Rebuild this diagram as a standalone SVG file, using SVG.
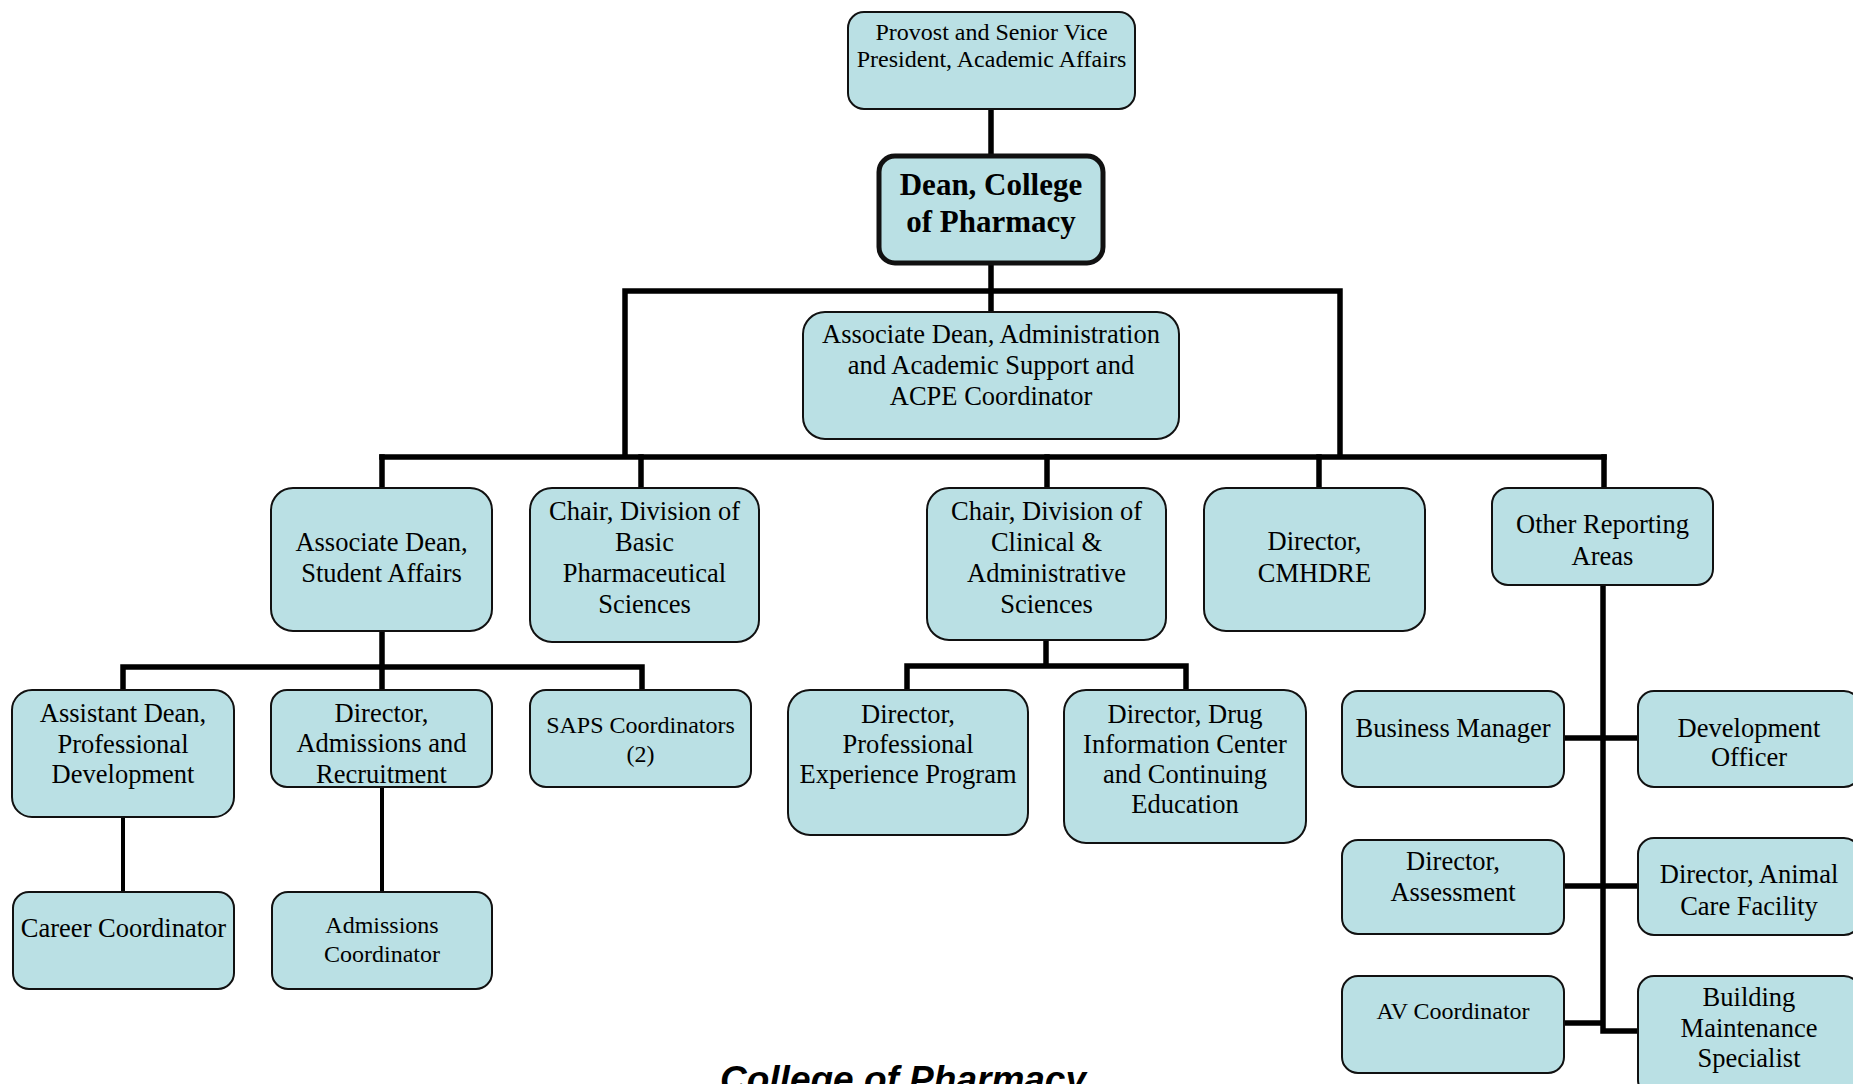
<svg xmlns="http://www.w3.org/2000/svg" width="1853" height="1084" viewBox="0 0 1853 1084">
<style>
.box{fill:#BAE0E4;stroke:#111;stroke-width:2}
.t{font-family:"Liberation Serif","Times New Roman",serif;font-size:26.5px;fill:#000;text-anchor:middle}
.s{font-size:24px}
.b{font-weight:bold;font-size:31px}
.c{fill:none;stroke:#000;stroke-width:5.5;stroke-linecap:square}
.thin{stroke-width:4}
.title{font-family:"Liberation Sans",Arial,sans-serif;font-weight:bold;font-style:italic;font-size:37px;fill:#000}
</style>
<rect width="1853" height="1084" fill="#fff"/>
<g id="connectors">
<path class="c" d="M991 109V156M991 263V312M625 291H1340M625 291V457M1340 291V457M382 457H1604"/>
<path class="c" d="M382 457V488M641 457V488M1047 457V488M1319 457V488M1604 457V488"/>
<path class="c" d="M382 631V690M123 667H642M123 667V690M642 667V690"/>
<path class="c" d="M1046 640V666M907 666H1186M907 666V690M1186 666V690"/>
<path class="c thin" d="M123 817V892M382 787V892"/>
<path class="c" d="M1603 585V1031M1564 738H1638M1564 886H1638M1564 1023H1603M1603 1031H1638"/>
</g>
<g id="provost"><rect class="box" x="848" y="12" width="287" height="97" rx="16"/>
<text class="t s" x="991.5" y="40">Provost and Senior Vice</text><text class="t s" x="991.5" y="67">President, Academic Affairs</text></g>
<g id="dean"><rect class="box" x="879" y="156" width="224" height="107" rx="16" style="stroke-width:5"/>
<text class="t b" x="991" y="195">Dean, College</text><text class="t b" x="991" y="232">of Pharmacy</text></g>
<g id="assoc-admin"><rect class="box" x="803" y="312" width="376" height="127" rx="22"/>
<text class="t" x="991" y="343">Associate Dean, Administration</text><text class="t" x="991" y="374">and Academic Support and</text><text class="t" x="991" y="405">ACPE Coordinator</text></g>
<g id="student-affairs"><rect class="box" x="271" y="488" width="221" height="143" rx="22"/>
<text class="t" x="381.5" y="551">Associate Dean,</text><text class="t" x="381.5" y="582">Student Affairs</text></g>
<g id="basic-sciences"><rect class="box" x="530" y="488" width="229" height="154" rx="22"/>
<text class="t" x="644.5" y="520">Chair, Division of</text><text class="t" x="644.5" y="551">Basic</text><text class="t" x="644.5" y="582">Pharmaceutical</text><text class="t" x="644.5" y="613">Sciences</text></g>
<g id="clinical-sciences"><rect class="box" x="927" y="488" width="239" height="152" rx="22"/>
<text class="t" x="1046.5" y="520">Chair, Division of</text><text class="t" x="1046.5" y="551">Clinical &amp;</text><text class="t" x="1046.5" y="582">Administrative</text><text class="t" x="1046.5" y="613">Sciences</text></g>
<g id="cmhdre"><rect class="box" x="1204" y="488" width="221" height="143" rx="22"/>
<text class="t" x="1314.5" y="550">Director,</text><text class="t" x="1314.5" y="582">CMHDRE</text></g>
<g id="other-reporting"><rect class="box" x="1492" y="488" width="221" height="97" rx="16"/>
<text class="t" x="1602.5" y="533">Other Reporting</text><text class="t" x="1602.5" y="565">Areas</text></g>
<g id="assistant-dean"><rect class="box" x="12" y="690" width="222" height="127" rx="20"/>
<text class="t" x="123" y="722">Assistant Dean,</text><text class="t" x="123" y="753">Professional</text><text class="t" x="123" y="783">Development</text></g>
<g id="director-admissions"><rect class="box" x="271" y="690" width="221" height="97" rx="16"/>
<text class="t" x="381.5" y="722">Director,</text><text class="t" x="381.5" y="752">Admissions and</text><text class="t" x="381.5" y="783">Recruitment</text></g>
<g id="saps"><rect class="box" x="530" y="690" width="221" height="97" rx="16"/>
<text class="t s" x="640.5" y="733">SAPS Coordinators</text><text class="t s" x="640.5" y="762">(2)</text></g>
<g id="prof-experience"><rect class="box" x="788" y="690" width="240" height="145" rx="22"/>
<text class="t" x="908" y="723">Director,</text><text class="t" x="908" y="753">Professional</text><text class="t" x="908" y="783">Experience Program</text></g>
<g id="drug-info"><rect class="box" x="1064" y="690" width="242" height="153" rx="22"/>
<text class="t" x="1185" y="723">Director, Drug</text><text class="t" x="1185" y="753">Information Center</text><text class="t" x="1185" y="783">and Continuing</text><text class="t" x="1185" y="813">Education</text></g>
<g id="career-coordinator"><rect class="box" x="13" y="892" width="221" height="97" rx="16"/>
<text class="t" x="123.5" y="937">Career Coordinator</text></g>
<g id="admissions-coordinator"><rect class="box" x="272" y="892" width="220" height="97" rx="16"/>
<text class="t s" x="382" y="933">Admissions</text><text class="t s" x="382" y="962">Coordinator</text></g>
<g id="business-manager"><rect class="box" x="1342" y="691" width="222" height="96" rx="16"/>
<text class="t" x="1453" y="737">Business Manager</text></g>
<g id="development-officer"><rect class="box" x="1638" y="691" width="222" height="96" rx="16"/>
<text class="t" x="1749" y="737">Development</text><text class="t" x="1749" y="766">Officer</text></g>
<g id="director-assessment"><rect class="box" x="1342" y="840" width="222" height="94" rx="16"/>
<text class="t" x="1453" y="870">Director,</text><text class="t" x="1453" y="901">Assessment</text></g>
<g id="animal-care"><rect class="box" x="1638" y="838" width="222" height="97" rx="16"/>
<text class="t" x="1749" y="883">Director, Animal</text><text class="t" x="1749" y="915">Care Facility</text></g>
<g id="av-coordinator"><rect class="box" x="1342" y="976" width="222" height="97" rx="16"/>
<text class="t s" x="1453" y="1019">AV Coordinator</text></g>
<g id="building-maintenance"><rect class="box" x="1638" y="976" width="222" height="120" rx="16"/>
<text class="t" x="1749" y="1006">Building</text><text class="t" x="1749" y="1037">Maintenance</text><text class="t" x="1749" y="1067">Specialist</text></g>
<text class="title" x="720" y="1092">College of Pharmacy</text>
</svg>
